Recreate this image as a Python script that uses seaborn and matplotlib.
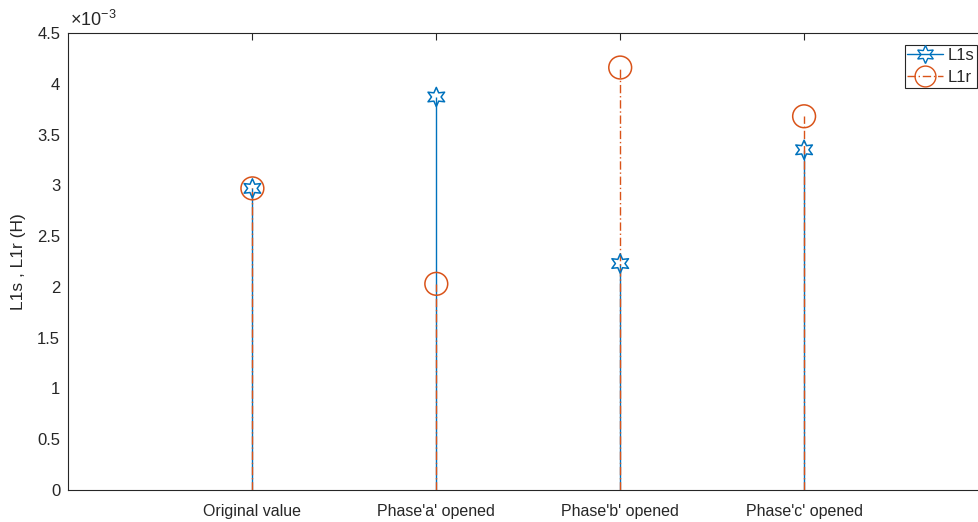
import numpy as np
import pandas as pd
import matplotlib
matplotlib.use("Agg")
import matplotlib.pyplot as plt
import seaborn as sns
from matplotlib.lines import Line2D

categories = ["Original value", "Phase'a' opened", "Phase'b' opened", "Phase'c' opened"]
L1s = [2.97e-3, 3.87e-3, 2.23e-3, 3.35e-3]
L1r = [2.97e-3, 2.03e-3, 4.16e-3, 3.68e-3]

sns.set_style("white")
plt.rcParams['font.family'] = ['Liberation Sans', 'DejaVu Sans']
plt.rcParams['mathtext.fontset'] = 'custom'
plt.rcParams['mathtext.rm'] = 'Liberation Sans'
plt.rcParams['mathtext.it'] = 'Liberation Sans'

blue = '#0072BD'
orange = '#D95319'

xpos = np.arange(1, len(categories) + 1)
df = pd.DataFrame({"x": np.concatenate([xpos, xpos]),
                   "value": L1s + L1r,
                   "series": ["L1s"] * 4 + ["L1r"] * 4})

fig = plt.figure(figsize=(9.79, 5.22), dpi=100)
ax = fig.add_axes([68.5 / 979, 1 - 490 / 522, (988 - 68.5) / 979, (490 - 33) / 522])

# stems
ax.vlines(xpos, 0, L1s, color=blue, lw=1.0, linestyle='-', zorder=2)
ax.vlines(xpos, 0, L1r, color=orange, lw=1.0, linestyle=(0, (6, 2, 1, 2)), zorder=3)

star = (6, 1, 0)
sns.scatterplot(data=df[df.series == "L1s"], x="x", y="value", marker=star, s=190,
                facecolor='none', edgecolor=blue, linewidth=1.1, ax=ax, zorder=4, legend=False)
sns.scatterplot(data=df[df.series == "L1r"], x="x", y="value", marker='o', s=270,
                facecolor='none', edgecolor=orange, linewidth=1.1, ax=ax, zorder=5, legend=False)

ax.set_xlim(0, 5)
ax.set_ylim(0, 4.5e-3)
ax.set_xticks(xpos)
ax.set_xticklabels(categories, fontsize=11.5)
yt = np.arange(0, 4.51e-3, 0.5e-3)
ax.set_yticks(yt)
ax.set_yticklabels([f"{v*1e3:g}" for v in yt], fontsize=12)
ax.tick_params(direction='in', length=5, width=0.8, color='#262626', labelcolor='#262626',
               top=True, right=True, pad=6)
ax.tick_params(axis='x', pad=10)
ax.set_xlabel("")
ax.set_ylabel("L1s , L1r (H)", fontsize=12.5, color='#262626', labelpad=8)
for s in ax.spines.values():
    s.set_color('#262626')
    s.set_linewidth(0.8)

ax.text(0.002, 1.006, r'$\times10^{\mathregular{-3}}$', transform=ax.transAxes, fontsize=13,
        ha='left', va='bottom', color='#262626')

handles = [Line2D([0], [0], color=blue, lw=1.0, marker=star, markersize=13,
                  markerfacecolor='none', markeredgecolor=blue),
           Line2D([0], [0], color=orange, lw=1.0, linestyle=(0, (6, 2, 1, 2)), marker='o',
                  markersize=15, markerfacecolor='none', markeredgecolor=orange)]
leg = fig.legend(handles, ["L1s", "L1r"], loc='upper left',
                 bbox_to_anchor=(905 / 979, 1 - 45 / 522), fontsize=12,
                 frameon=True, fancybox=False, edgecolor='#262626', framealpha=1,
                 handlelength=2.15, handletextpad=0.25, borderpad=0.15, labelspacing=0.45,
                 borderaxespad=0)
leg.get_frame().set_linewidth(0.8)

fig.savefig("out.png", dpi=100)
